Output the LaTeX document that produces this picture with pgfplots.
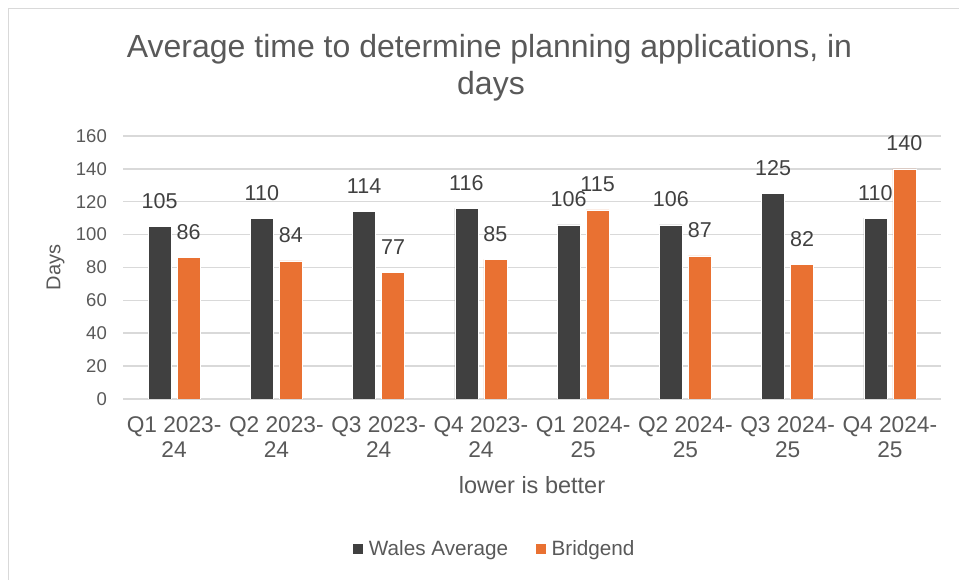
\documentclass[border=0pt]{standalone}
\usepackage{fontspec}
\setmainfont{Liberation Sans}
\usepackage{pgfplots}
\pgfplotsset{compat=1.18}
\definecolor{walesgrey}{HTML}{404040}
\definecolor{bridgorange}{HTML}{E97132}
\definecolor{gridgrey}{HTML}{D9D9D9}
\definecolor{textgrey}{HTML}{595959}

\begin{document}
\begin{tikzpicture}
\useasboundingbox (0pt,0pt) rectangle (959pt,580pt);
% chart frame (only top and left edges are inside the picture)
\draw[gridgrey, line width=1.5pt] (8.5pt,0pt) -- (8.5pt,571.5pt) -- (959pt,571.5pt);
% title
\node[anchor=base, text=textgrey, inner sep=0pt, font=\fontsize{32}{37}\selectfont]
  at (489.5pt,522pt) {Average time to determine planning applications, in};
\node[anchor=base, text=textgrey, inner sep=0pt, font=\fontsize{32}{37}\selectfont]
  at (491pt,485pt) {days};

\begin{axis}[
    at={(123pt,181pt)}, anchor=south west,
    width=818pt, height=263pt, scale only axis,
    ybar=6pt, bar width=23pt,
    xmin=-0.5, xmax=7.5, ymin=0, ymax=160,
    xtick={0,...,7}, ytick={0,20,...,160},
    xticklabels={{Q1 2023-\\24},{Q2 2023-\\24},{Q3 2023-\\24},{Q4 2023-\\24},
                 {Q1 2024-\\25},{Q2 2024-\\25},{Q3 2024-\\25},{Q4 2024-\\25}},
    axis line style={draw=none},
    major tick length=0pt,
    ymajorgrids, grid style={gridgrey, line width=1.5pt},
    /pgf/number format/assume math mode=true,
    yticklabel style={font=\fontsize{18.5}{22}\selectfont, text=textgrey,
        anchor=east, inner sep=0pt, xshift=-16pt},
    xticklabel style={font=\fontsize{22.7}{25}\selectfont, text=textgrey,
        align=center, anchor=north, inner sep=0pt, yshift=-17pt},
    xlabel={lower is better},
    xlabel style={at={(axis description cs:0.5,-0.3612)}, anchor=base,
        inner sep=0pt, font=\fontsize{23.5}{27}\selectfont, text=textgrey},
    ylabel={Days},
    ylabel style={at={(axis description cs:-0.0825,0.5)}, anchor=center,
        inner sep=0pt, font=\fontsize{20}{24}\selectfont, text=textgrey},
    nodes near coords,
    every node near coord/.append style={anchor=base, yshift=18pt,
        font=\fontsize{21.5}{26}\selectfont, text=walesgrey},
    legend columns=2,
    legend style={at={(0.4529,-0.5703)}, anchor=center, draw=none, fill=none,
        font=\fontsize{20.7}{25}\selectfont, text=textgrey,
        nodes={inner sep=0pt},
        /tikz/every odd column/.append style={column sep=5pt},
        /tikz/every even column/.append style={column sep=27pt}},
    legend image code/.code={\fill[#1] (0pt,-5.5pt) rectangle (11pt,5.5pt);},
]
\addplot[fill=walesgrey, draw=white, line width=0.5pt]
  coordinates {(0,105) (1,110) (2,114) (3,116) (4,106) (5,106) (6,125) (7,110)};
\addplot[fill=bridgorange, draw=white, line width=0.5pt]
  coordinates {(0,86) (1,84) (2,77) (3,85) (4,115) (5,87) (6,82) (7,140)};
\legend{Wales Average, Bridgend}
\end{axis}
\end{tikzpicture}
\end{document}
